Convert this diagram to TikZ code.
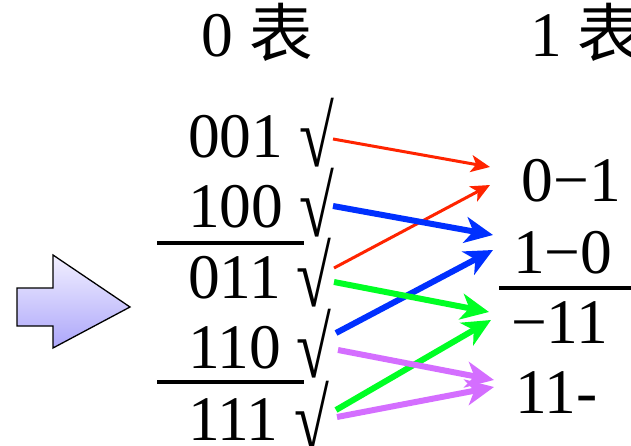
\documentclass[tikz,border=0pt]{standalone}
\usepackage{fontspec}
\setmainfont{Liberation Serif}
\newfontfamily\cjkfont{Noto Sans CJK SC}
\usetikzlibrary{arrows.meta,positioning}
\definecolor{mergered}{RGB}{255,36,0}
\definecolor{mergeblue}{RGB}{0,48,255}
\definecolor{mergegreen}{RGB}{0,255,36}
\definecolor{mergeviolet}{RGB}{212,110,255}
\definecolor{blocktop}{RGB}{242,240,255}
\definecolor{blockbottom}{RGB}{172,166,250}
\newcommand{\qmtick}{\smash{\raisebox{-9pt}{\scalebox{1}[1.36]{√}}}}
\tikzset{
 qm entry/.style={inner sep=0pt,outer sep=0pt,anchor=base west,
                  font=\fontsize{63.5}{70}\selectfont},
 qm rule/.style={line width=4pt},
 qm thin/.style={line width=3pt,-{Stealth[length=19pt,width=17pt,inset=5pt]}},
 qm thick/.style={line width=6pt,-{Stealth[length=28pt,width=26pt,inset=8pt]}},
 qm block/.style={draw=black,line width=1.3pt,line join=miter,
                  top color=blocktop,bottom color=blockbottom}
}
\begin{document}
\begin{tikzpicture}[x=1pt,y=-1pt]
 \useasboundingbox (0,0) rectangle (631,446);

 % left block arrow
 \shade[qm block] (17,288) -- (53,288) -- (53,255) -- (130,307)
   -- (53,348) -- (53,326) -- (17,326) -- cycle;

 % headers
 \node[qm entry] (h0) at (201.5,57) {0 {\cjkfont 表}};
 \node[qm entry] (h1) at (530,57) {1 {\cjkfont 表}};

 % 0 table
 \node[qm entry] (r001) at (188,158) {001 \qmtick};
 \node[qm entry] (r100) at (188,228) {100 \qmtick};
 \node[qm entry] (r011) at (188,298) {011 \qmtick};
 \node[qm entry] (r110) at (188,368) {110 \qmtick};
 \node[qm entry] (r111) at (188,440) {111 \qmtick};
 \draw[qm rule] (157,243) -- (304,243);
 \draw[qm rule] (157,382) -- (304,382);

 % 1 table
 \node[qm entry] (c0x1) at (521.5,202) {0−1};
 \node[qm entry] (c1x0) at (513,273) {1−0};
 \node[qm entry] (cx11) at (511,343) {−11};
 \node[qm entry] (c11x) at (515,413) {11-};
 \draw[qm rule] (499,288) -- (640,288);

 % arrow ends
 \coordinate (a1s) at (333,139); \coordinate (a1e) at (490,167);
 \coordinate (a2s) at (334,268); \coordinate (a2e) at (490,185);
 \coordinate (b1s) at (333,206); \coordinate (b1e) at (493,235);
 \coordinate (b2s) at (336,333); \coordinate (b2e) at (493,250);
 \coordinate (g1s) at (334,282); \coordinate (g1e) at (489,312);
 \coordinate (g2s) at (336,410); \coordinate (g2e) at (491,320);
 \coordinate (v1s) at (338,350); \coordinate (v1e) at (494,380);
 \coordinate (v2s) at (337,417); \coordinate (v2e) at (494,387);

 \draw[qm thin,mergered] (a1s) -- (a1e);
 \draw[qm thin,mergered] (a2s) -- (a2e);
 \draw[qm thick,mergeblue] (b1s) -- (b1e);
 \draw[qm thick,mergeblue] (b2s) -- (b2e);
 \draw[qm thick,mergegreen] (g1s) -- (g1e);
 \draw[qm thick,mergegreen] (g2s) -- (g2e);
 \draw[qm thick,mergeviolet] (v1s) -- (v1e);
 \draw[qm thick,mergeviolet] (v2s) -- (v2e);
\end{tikzpicture}
\end{document}
